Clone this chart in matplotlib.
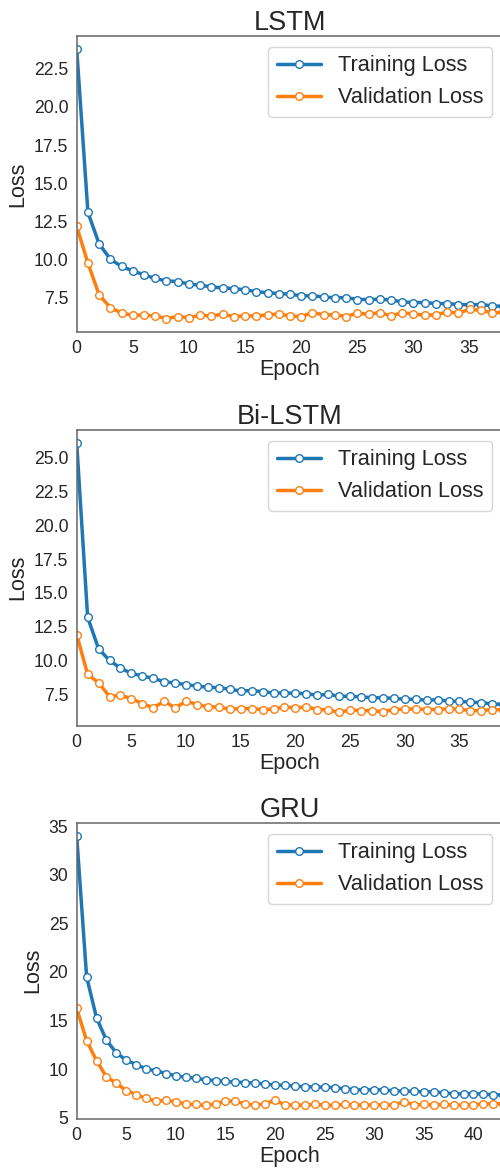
import matplotlib
matplotlib.use("Agg")
import matplotlib.pyplot as plt
from matplotlib.ticker import MultipleLocator
import seaborn as sns

sns.set_style("white")
plt.rcParams['font.family'] = ['Liberation Sans', 'DejaVu Sans']

# loss values read per epoch
lstm_train = [23.8, 13.07, 11.0, 10.0, 9.52, 9.23, 8.97, 8.73, 8.57, 8.53,
              8.36, 8.29, 8.18, 8.11, 8.07, 7.98, 7.87, 7.79, 7.74, 7.70,
              7.59, 7.59, 7.52, 7.46, 7.48, 7.35, 7.35, 7.37, 7.32, 7.19,
              7.15, 7.15, 7.08, 7.08, 7.02, 7.0, 7.02, 6.93, 6.9]
lstm_val = [12.15, 9.74, 7.65, 6.82, 6.45, 6.32, 6.32, 6.27, 6.10, 6.23,
            6.16, 6.32, 6.27, 6.38, 6.23, 6.27, 6.27, 6.34, 6.40, 6.27,
            6.23, 6.49, 6.34, 6.34, 6.23, 6.45, 6.38, 6.49, 6.27, 6.49,
            6.38, 6.34, 6.32, 6.54, 6.45, 6.71, 6.64, 6.49, 6.5]

bilstm_train = [26.1, 13.2, 10.87, 10.0, 9.44, 9.05, 8.85, 8.68, 8.43, 8.33,
                8.21, 8.11, 8.01, 7.99, 7.87, 7.74, 7.77, 7.69, 7.60, 7.60,
                7.57, 7.55, 7.42, 7.50, 7.35, 7.35, 7.30, 7.25, 7.23, 7.20,
                7.13, 7.13, 7.05, 7.10, 6.98, 6.98, 6.91, 6.88, 6.78, 6.75]
bilstm_val = [11.92, 8.97, 8.36, 7.33, 7.42, 7.18, 6.81, 6.49, 6.98, 6.49,
              6.98, 6.74, 6.56, 6.56, 6.39, 6.44, 6.44, 6.37, 6.39, 6.56,
              6.49, 6.56, 6.37, 6.34, 6.15, 6.34, 6.29, 6.29, 6.19, 6.37,
              6.39, 6.42, 6.37, 6.37, 6.42, 6.39, 6.29, 6.29, 6.37, 6.35]

gru_train = [33.97, 19.5, 15.26, 12.97, 11.67, 10.92, 10.47, 10.03, 9.82, 9.55,
             9.31, 9.17, 9.07, 8.90, 8.83, 8.73, 8.66, 8.62, 8.55, 8.49,
             8.35, 8.35, 8.25, 8.18, 8.18, 8.14, 8.11, 7.97, 7.90, 7.84,
             7.90, 7.84, 7.77, 7.73, 7.73, 7.66, 7.66, 7.56, 7.46, 7.46,
             7.49, 7.43, 7.36, 7.35]
gru_val = [16.25, 12.93, 10.88, 9.2, 8.55, 7.80, 7.39, 6.98, 6.71, 6.78,
           6.64, 6.40, 6.37, 6.26, 6.43, 6.71, 6.71, 6.40, 6.30, 6.43,
           6.81, 6.30, 6.33, 6.26, 6.40, 6.30, 6.26, 6.37, 6.30, 6.30,
           6.33, 6.30, 6.33, 6.64, 6.33, 6.37, 6.30, 6.37, 6.30, 6.30,
           6.33, 6.43, 6.43, 6.45]

titles = ["LSTM", "Bi-LSTM", "GRU"]
train_sets = [lstm_train, bilstm_train, gru_train]
val_sets = [lstm_val, bilstm_val, gru_val]
y_steps = [2.5, 2.5, 5]

fig = plt.figure(figsize=(5.0, 11.69), dpi=100)
bottoms = [0.716, 0.379, 0.0428]

for title, tr, va, step, b in zip(titles, train_sets, val_sets, y_steps, bottoms):
    ax = fig.add_axes([0.1534, b, 0.853, 0.2535])
    epochs = list(range(len(tr)))
    ax.plot(epochs, tr, color="#1f77b4", lw=2.5, marker="o", ms=5.5,
            mfc="white", mew=1.0, label="Training Loss")
    ax.plot(epochs, va, color="#ff7f0e", lw=2.5, marker="o", ms=5.5,
            mfc="white", mew=1.0, label="Validation Loss")
    ax.set_xlim(0, len(tr) - 1)
    ax.xaxis.set_major_locator(MultipleLocator(5))
    ax.yaxis.set_major_locator(MultipleLocator(step))
    if step == 2.5:
        ax.yaxis.set_major_formatter("{x:.1f}")
    else:
        ax.yaxis.set_major_formatter("{x:.0f}")
    ax.set_title(title, fontsize=19.5, pad=4, color="#262626")
    ax.set_xlabel("Epoch", fontsize=15.5, labelpad=1, color="#262626")
    ax.set_ylabel("Loss", fontsize=15.5, color="#262626")
    ax.tick_params(length=0, pad=6, labelsize=12.7, labelcolor="#262626")
    for s in ax.spines.values():
        s.set_color("0.4")
        s.set_linewidth(1.1)
    ax.legend(loc="upper right", fontsize=15.7, frameon=True)

fig.savefig("out.png", dpi=100)
